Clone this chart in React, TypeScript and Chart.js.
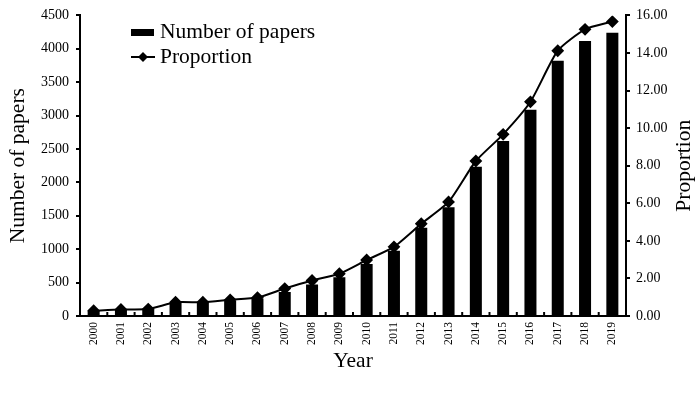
import React, { useEffect, useRef } from "react";
import { Chart, registerables } from "chart.js";

Chart.register(...registerables);

const years = ["2000","2001","2002","2003","2004","2005","2006","2007","2008","2009","2010","2011","2012","2013","2014","2015","2016","2017","2018","2019"];
const papers = [75, 93, 99, 195, 195, 228, 262, 360, 473, 581, 780, 976, 1321, 1627, 2234, 2618, 3087, 3821, 4117, 4241];
const proportion = [0.28, 0.35, 0.37, 0.73, 0.73, 0.86, 0.98, 1.46, 1.89, 2.25, 2.98, 3.68, 4.91, 6.07, 8.25, 9.67, 11.4, 14.12, 15.26, 15.67];

const FONT = "'Liberation Serif', 'Times New Roman', serif";
const TITLE_SIZE = 21.5;
const RIGHT_TITLE = "Proportion";

const innerTicks = {
  id: "innerTicks",
  afterDatasetsDraw(chart: any) {
    const x = chart.scales.x;
    const ctx = chart.ctx;
    const bottom = chart.chartArea.bottom;
    ctx.save();
    ctx.strokeStyle = "#000";
    ctx.lineWidth = 2;
    for (let i = 0; i < years.length - 1; i++) {
      const px = (x.getPixelForTick(i) + x.getPixelForTick(i + 1)) / 2;
      ctx.beginPath();
      ctx.moveTo(px, bottom);
      ctx.lineTo(px, bottom - 4);
      ctx.stroke();
    }
    ctx.restore();
  },
};

const legendPlugin = {
  id: "customLegend",
  afterDraw(chart: any) {
    const ctx = chart.ctx;
    ctx.save();
    ctx.fillStyle = "#000";
    ctx.strokeStyle = "#000";
    ctx.fillRect(131, 29, 23, 7);
    ctx.lineWidth = 2;
    ctx.beginPath();
    ctx.moveTo(131, 57);
    ctx.lineTo(155, 57);
    ctx.stroke();
    ctx.beginPath();
    ctx.moveTo(143, 52);
    ctx.lineTo(148, 57);
    ctx.lineTo(143, 62);
    ctx.lineTo(138, 57);
    ctx.closePath();
    ctx.fill();
    ctx.font = `${TITLE_SIZE}px ${FONT}`;
    ctx.textBaseline = "middle";
    ctx.textAlign = "left";
    ctx.fillText(chart.data.datasets[0].label, 160, 32);
    ctx.fillText(chart.data.datasets[1].label, 160, 57);
    // right axis title, reading bottom-to-top
    const ca = chart.chartArea;
    ctx.translate(684, (ca.top + ca.bottom) / 2);
    ctx.rotate(-Math.PI / 2);
    ctx.textAlign = "center";
    ctx.fillText(RIGHT_TITLE, 0, 0);
    ctx.restore();
  },
};

export default function App() {
  const ref = useRef<HTMLCanvasElement | null>(null);
  useEffect(() => {
    document.body.style.margin = "0";
    const chart = new Chart(ref.current as HTMLCanvasElement, {
      type: "bar",
      data: {
        labels: years,
        datasets: [
          {
            type: "bar",
            label: "Number of papers",
            data: papers,
            backgroundColor: "#000",
            yAxisID: "y",
            barPercentage: 0.44,
            categoryPercentage: 1,
            order: 2,
          },
          {
            type: "line",
            label: "Proportion",
            data: proportion,
            borderColor: "#000",
            backgroundColor: "#000",
            borderWidth: 2,
            pointStyle: "rectRot",
            pointRadius: 5,
            tension: 0.2,
            yAxisID: "y1",
            order: 1,
          } as any,
        ],
      },
      options: {
        animation: false,
        responsive: false,
        layout: { padding: { top: 12, left: 0, right: 0, bottom: 0 } },
        plugins: { legend: { display: false }, tooltip: { enabled: false } },
        scales: {
          x: {
            offset: true,
            grid: { display: false, drawTicks: false },
            border: { display: true, color: "#000", width: 2 },
            ticks: {
              color: "#000",
              font: { family: FONT, size: 11.5 },
              minRotation: 90,
              maxRotation: 90,
              padding: 6,
              autoSkip: false,
            },
            title: {
              display: true,
              text: "Year",
              color: "#000",
              font: { family: FONT, size: TITLE_SIZE },
              padding: { top: 0, bottom: 20 },
            },
            afterFit(scale: any) {
              scale.height = 78;
            },
          },
          y: {
            position: "left",
            min: 0,
            max: 4500,
            grid: { drawOnChartArea: false, color: "#000", tickLength: 4, lineWidth: 2 },
            border: { display: true, color: "#000", width: 2 },
            ticks: {
              stepSize: 500,
              color: "#000",
              font: { family: FONT, size: 14 },
              padding: 7,
              callback: (v: any) => String(v),
            },
            title: {
              display: true,
              text: "Number of papers",
              color: "#000",
              font: { family: FONT, size: TITLE_SIZE },
              padding: { top: 5, bottom: 0 },
            },
            afterFit(scale: any) {
              scale.width = 80;
            },
          },
          y1: {
            position: "right",
            min: 0,
            max: 16,
            grid: { drawOnChartArea: false, color: "#000", tickLength: 4, lineWidth: 2 },
            border: { display: true, color: "#000", width: 2 },
            ticks: {
              stepSize: 2,
              color: "#000",
              font: { family: FONT, size: 14 },
              padding: 6,
              callback: (v: any) => Number(v).toFixed(2),
            },
            afterFit(scale: any) {
              scale.width = 74;
            },
          },
        },
      },
      plugins: [innerTicks, legendPlugin],
    });
    return () => chart.destroy();
  }, []);
  return (
    <div style={{ width: 700, height: 394, background: "#fff" }}>
      <canvas ref={ref} width={700} height={394} style={{ display: "block" }} />
    </div>
  );
}
